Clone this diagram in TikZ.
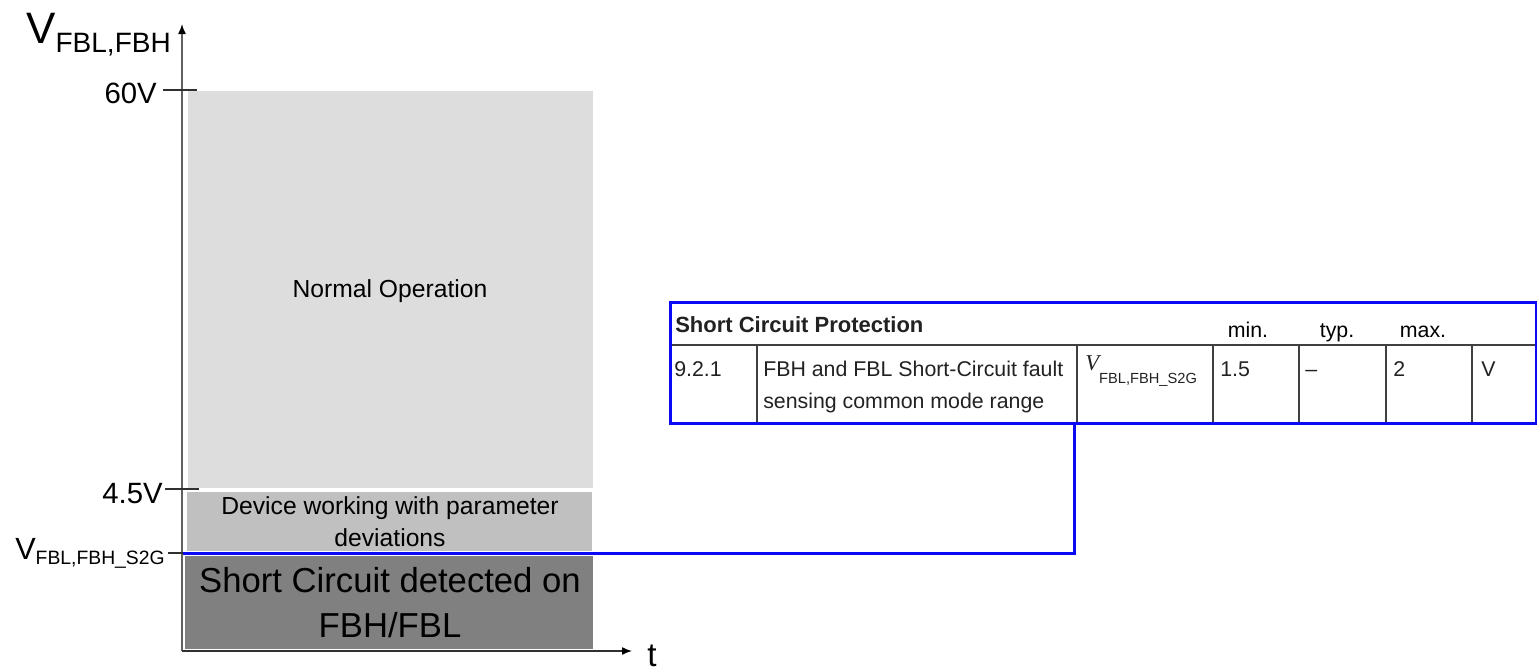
\documentclass[tikz,border=0pt]{standalone}
\usepackage{fontspec}
\setmainfont{Liberation Sans}
\newfontfamily\serifit{Liberation Serif}
\usetikzlibrary{arrows.meta}
\definecolor{lightg}{HTML}{DDDDDD}
\definecolor{midg}{HTML}{C0C0C0}
\definecolor{darkg}{HTML}{808080}
\definecolor{axisg}{HTML}{606060}
\definecolor{tickg}{HTML}{303030}
\definecolor{tblg}{HTML}{404040}
\definecolor{bl}{HTML}{0A0AF5}
\definecolor{txtg}{HTML}{222222}
\newcommand\fsz[1]{\fontsize{#1}{#1}\selectfont}
\begin{document}
\begin{tikzpicture}[x=0.75pt,y=-0.75pt,
  lbl/.style={inner sep=0pt, anchor=base},
  lblw/.style={inner sep=0pt, anchor=base west},
  lble/.style={inner sep=0pt, anchor=base east},
  axisline/.style={draw=axisg, line width=1.1pt, -{Latex[length=7.5pt,width=6pt,color=black]}},
  tickline/.style={draw=tickg, line width=1pt},
  tblline/.style={draw=tblg, line width=1.1pt},
  blueline/.style={draw=bl, line width=2.25pt},
  rowtxt/.style={lblw, font=\fsz{16}, text=txtg}]
\useasboundingbox (0,0) rectangle (1537,671);
\fill[white] (0,0) rectangle (1537,671);

% regions
\fill[lightg] (188,91) rectangle (593,488);
\fill[midg] (187,492) rectangle (592,551);
\fill[darkg] (185,556) rectangle (593,649);

\node[lbl, font=\fsz{18.5}] (normal) at (390,297) {Normal Operation};
\node[lbl, font=\fsz{18.5}] (dev1) at (390,514) {Device working with parameter};
\node[lbl, font=\fsz{18.5}] (dev2) at (390,546) {deviations};
\node[lbl, font=\fsz{26}] (sc1) at (390,592) {Short Circuit detected on};
\node[lbl, font=\fsz{26}] (sc2) at (390,637) {FBH/FBL};

% axes
\coordinate (O) at (182,651);
\coordinate (ytop) at (182,24);
\coordinate (xend) at (632,651);
\draw[axisline] (O) -- (ytop);
\draw[axisline, draw=tickg] (O) -- (xend);

\node[lblw, font=\fsz{33}] (vlabel) at (26,43) {V\raisebox{-6.75pt}{\fsz{21}FBL,FBH}};
\node[lblw, font=\fsz{25}] (tlabel) at (647,666) {t};

% ticks
\coordinate (t60a) at (163,90);
\coordinate (t60b) at (197,90);
\coordinate (t45a) at (165,489);
\coordinate (t45b) at (199,489);
\coordinate (ts2ga) at (168,553);
\coordinate (s2g) at (183,553);
\draw[tickline] (t60a) -- (t60b);
\draw[tickline] (t45a) -- (t45b);
\draw[tickline] (ts2ga) -- (s2g);

\node[lble, font=\fsz{22}] (l60) at (157,103) {60V};
\node[lble, font=\fsz{22}] (l45) at (163,503) {4.5V};
\node[lblw, font=\fsz{23}] (ls2g) at (15,559) {V\raisebox{-3.75pt}{\fsz{14.5}FBL,FBH\_S2G}};

% table
\foreach \xx in {757,1077,1213,1299,1386,1472}{
  \draw[tblline] (\xx,345) -- (\xx,423);
}
\draw[tblline] (670,345) -- (1537,345);
\coordinate (tblnw) at (670,302);
\coordinate (tblse) at (1536,423);
\draw[blueline] (tblnw) rectangle (tblse);

\node[lblw, font=\fsz{16.5}\bfseries, text=txtg] (title) at (675,332) {Short Circuit Protection};
\node[lbl, font=\fsz{16}] (hmin) at (1248,337) {min.};
\node[lbl, font=\fsz{16}] (htyp) at (1337,337) {typ.};
\node[lbl, font=\fsz{16}] (hmax) at (1423,337) {max.};

\node[rowtxt] (num) at (674,376) {9.2.1};
\node[rowtxt] (desc1) at (763,376) {FBH and FBL Short-Circuit fault};
\node[rowtxt] (desc2) at (763,408) {sensing common mode range};
\node[lblw, text=txtg] (sym) at (1085,370) {{\serifit\itshape\fsz{17}V}\raisebox{-9.75pt}{\fsz{11}FBL,FBH\_S2G}};
\node[rowtxt] (vmin) at (1220,376) {1.5};
\node[rowtxt] (vtyp) at (1305,376) {–};
\node[rowtxt] (vmax) at (1393,376) {2};
\node[rowtxt] (unit) at (1481,376) {V};

% connector
\coordinate (tconn) at (1074,423);
\draw[blueline] (s2g) -| (tconn);
\end{tikzpicture}
\end{document}
